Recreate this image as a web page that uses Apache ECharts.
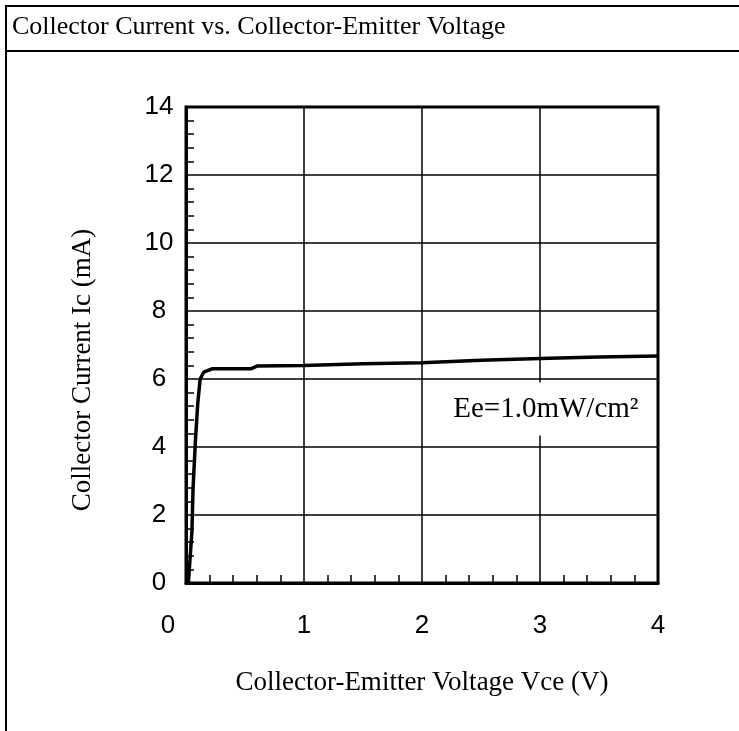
<!DOCTYPE html>
<html>
<head>
    <meta charset="utf-8">
    <script src="https://cdn.jsdelivr.net/npm/echarts@6/dist/echarts.min.js"></script>
    <style>
        html, body { margin: 0; padding: 0; background: #fff; }
    </style>
</head>
<body>
<div id="main" style="width: 739px;height:731px;"></div>

<script type="text/javascript">
    // Ic-Vce curve at Ee = 1.0 mW/cm2
    var vce = [0.02, 0.03, 0.05, 0.06, 0.08, 0.10, 0.12, 0.15, 0.22, 0.55, 0.6, 1.0, 1.5, 2.0, 2.5, 3.0, 3.5, 4.0];
    var ic  = [0,    0.5,  1.5,  2.8,  4.2,  5.3,  6.0,  6.2,  6.3,  6.3,  6.38, 6.4, 6.45, 6.48, 6.55, 6.6, 6.65, 6.68];
    var xTicks = [0, 1, 2, 3, 4];
    var yTicks = [0, 2, 4, 6, 8, 10, 12, 14];
    var note = { text: 'Ee=1.0mW/cm²', x: 3.05, y: 5.12 };

    var points = vce.map(function (v, i) { return [v, ic[i]]; });

    var myChart = echarts.init(document.getElementById('main'));
    var option = {
        backgroundColor: '#fff',
        animation: false,
        graphic: [
            // title box
            { type: 'line', shape: { x1: 5, y1: 6, x2: 739, y2: 6 }, style: { stroke: '#000', lineWidth: 2 } },
            { type: 'line', shape: { x1: 5, y1: 51, x2: 739, y2: 51 }, style: { stroke: '#000', lineWidth: 2 } },
            { type: 'line', shape: { x1: 6, y1: 5, x2: 6, y2: 731 }, style: { stroke: '#000', lineWidth: 2 } },
            {
                type: 'text', left: 12, top: 14,
                style: {
                    text: 'Collector Current vs. Collector-Emitter Voltage',
                    font: '26px "Liberation Serif"', fill: '#000'
                }
            }
        ],
        grid: {
            left: 186, top: 107, right: 81, bottom: 148,
            show: true, borderColor: '#000', borderWidth: 3
        },
        xAxis: {
            type: 'value', min: 0, max: 4, interval: 1,
            name: 'Collector-Emitter Voltage Vce (V)',
            nameLocation: 'middle', nameGap: 86,
            nameTextStyle: { fontFamily: 'Liberation Serif', fontSize: 27, color: '#000' },
            axisLine: { lineStyle: { color: '#000', width: 3 } },
            axisTick: { show: false, inside: true },
            minorTick: { show: true, splitNumber: 5, length: 8, lineStyle: { color: '#000', width: 1.5 } },
            splitLine: { show: true, lineStyle: { color: '#000', width: 1.5 } },
            axisLabel: {
                margin: 30, fontFamily: 'Liberation Sans', fontSize: 26, color: '#000',
                formatter: function (v) { return v === 0 ? '{z|0}' : String(v); },
                rich: { z: { fontFamily: 'Liberation Sans', fontSize: 26, color: '#000', padding: [0, 36, 0, 0] } }
            }
        },
        yAxis: {
            type: 'value', min: 0, max: 14, interval: 2,
            name: 'Collector Current Ic (mA)',
            nameLocation: 'middle', nameGap: 90,
            nameTextStyle: { fontFamily: 'Liberation Serif', fontSize: 27, color: '#000', padding: [0, 50, 0, 0] },
            axisLine: { lineStyle: { color: '#000', width: 3 } },
            axisTick: { show: false, inside: true },
            minorTick: { show: true, splitNumber: 5, length: 8, lineStyle: { color: '#000', width: 1.5 } },
            splitLine: { show: true, lineStyle: { color: '#000', width: 1.5 } },
            axisLabel: {
                margin: 27, align: 'center', fontFamily: 'Liberation Sans', fontSize: 26, color: '#000',
                formatter: function (v) { return yTicks.indexOf(v) >= 0 ? String(v) : ''; }
            }
        },
        series: [{
            type: 'line',
            data: points,
            showSymbol: false,
            lineStyle: { color: '#000', width: 3.5 },
            markPoint: {
                symbol: 'rect', symbolSize: 0,
                data: [{ coord: [note.x, note.y] }],
                label: {
                    show: true, position: 'inside',
                    formatter: note.text,
                    fontFamily: 'Liberation Serif', fontSize: 29, color: '#000',
                    backgroundColor: '#fff', padding: [12, 6]
                }
            }
        }]
    };
    myChart.setOption(option);
</script>
</body>
</html>
